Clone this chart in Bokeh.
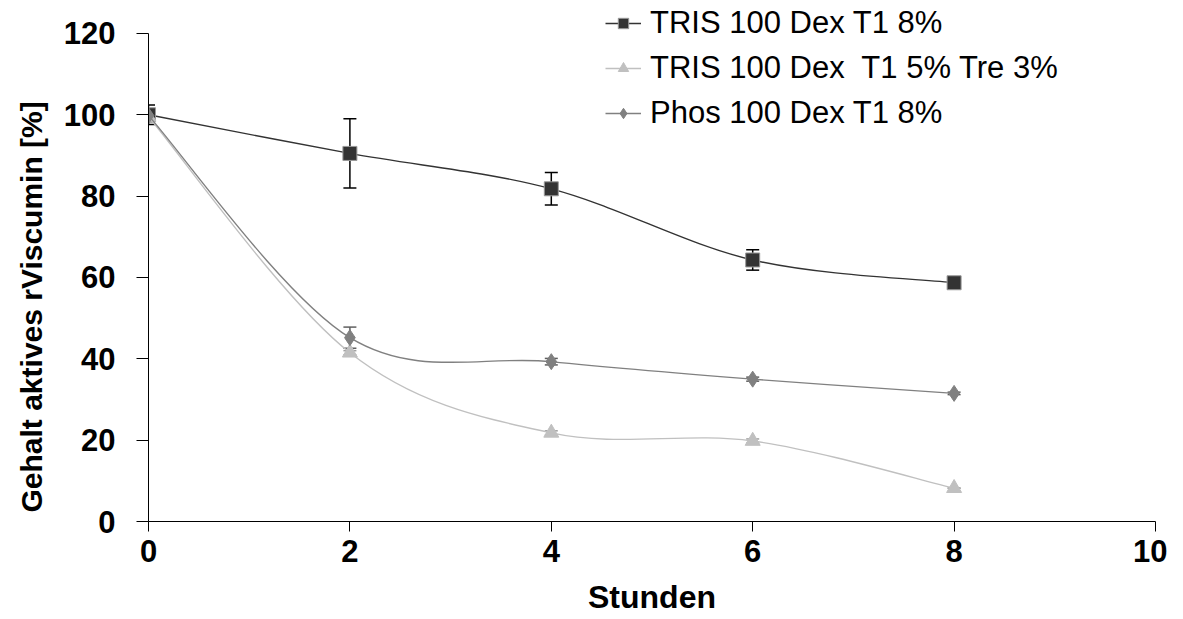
import numpy as np
from bokeh.plotting import figure
from bokeh.models import (Range1d, Legend, LegendItem, Whisker, ColumnDataSource,
                          FixedTicker, Title)
from bokeh.embed import file_html
from bokeh.resources import INLINE

hours = [0, 2, 4, 6, 8]
tris8 = [100, 90.5, 81.8, 64.3, 58.7]
tris8_err = [2.4, 8.5, 4.0, 2.5, 0.0]
tris5tre3 = [99.5, 41.5, 21.8, 19.8, 8.2]
tris5tre3_err = [1.0, 0.5, 0.5, 0.5, 0.0]
phos8 = [99.8, 45.2, 39.3, 35.0, 31.5]
phos8_err = [1.5, 2.6, 0.8, 0.5, 0.3]

labels = ["TRIS 100 Dex T1 8%", "TRIS 100 Dex  T1 5% Tre 3%", "Phos 100 Dex T1 8%"]
colors = ["#333333", "#C0C0C0", "#808080"]
markers = ["square", "triangle", "diamond"]
msizes = [14, 15, 16]
err_colors = ["#000000", "#A0A0A0", "#606060"]
y_ticks = [0, 20, 40, 60, 80, 100, 120]
x_ticks = [0, 2, 4, 6, 8, 10]
x_title = "Stunden"
y_title = "Gehalt aktives rViscumin [%]"

FONT = "Liberation Sans"

# frame spans the full canvas height above the axis so the legend (which sits
# partly above the 120 tick) is not clipped; the axis itself is bounded to 0..120
p = figure(width=1167, height=617, output_backend="svg", toolbar_location=None,
           x_range=Range1d(0, 10), y_range=Range1d(0, 128.1),
           min_border_left=148, min_border_right=12, min_border_top=0, min_border_bottom=96)
p.outline_line_color = None
p.grid.visible = False
p.background_fill_color = "white"


def bezier_segments(xs, ys):
    xs = np.asarray(xs, float)
    ys = np.asarray(ys, float)
    n = len(xs)
    x0, y0, x1, y1, cx0, cy0, cx1, cy1 = ([] for _ in range(8))
    for i in range(n - 1):
        ip = max(i - 1, 0)
        inx = min(i + 2, n - 1)
        x0.append(xs[i]); y0.append(ys[i])
        x1.append(xs[i + 1]); y1.append(ys[i + 1])
        cx0.append(xs[i] + (xs[i + 1] - xs[ip]) / 6.0)
        cy0.append(ys[i] + (ys[i + 1] - ys[ip]) / 6.0)
        cx1.append(xs[i + 1] - (xs[inx] - xs[i]) / 6.0)
        cy1.append(ys[i + 1] - (ys[inx] - ys[i]) / 6.0)
    return dict(x0=x0, y0=y0, x1=x1, y1=y1, cx0=cx0, cy0=cy0, cx1=cx1, cy1=cy1)


items = []
series = [tris8, tris5tre3, phos8]
errs = [tris8_err, tris5tre3_err, phos8_err]
for k in range(3):
    ys = series[k]
    e = errs[k]
    src = ColumnDataSource(dict(x=hours, y=ys,
                                lo=[a - b for a, b in zip(ys, e)],
                                hi=[a + b for a, b in zip(ys, e)]))
    bsrc = ColumnDataSource(bezier_segments(hours, ys))
    br = p.bezier(x0="x0", y0="y0", x1="x1", y1="y1", cx0="cx0", cy0="cy0",
                  cx1="cx1", cy1="cy1", source=bsrc, line_color=colors[k], line_width=1.4)
    w = Whisker(base="x", lower="lo", upper="hi", source=src, line_color=err_colors[k],
                line_width=1.5)
    w.upper_head.size = 13
    w.lower_head.size = 13
    w.upper_head.line_color = err_colors[k]
    w.lower_head.line_color = err_colors[k]
    w.upper_head.line_width = 1.5
    w.lower_head.line_width = 1.5
    p.add_layout(w)
    sr = p.scatter(x="x", y="y", source=src, marker=markers[k], size=msizes[k],
                   fill_color=colors[k], line_color="#999999" if k == 0 else colors[k],
                   line_width=1)
    items.append(LegendItem(label=labels[k], renderers=[br, sr]))

legend = Legend(items=items, location=(457, 390), border_line_color=None,
                background_fill_alpha=0, padding=0, margin=0,
                label_text_font=FONT, label_text_font_size="31px",
                label_text_color="#000000",
                glyph_width=36, glyph_height=26, label_height=31,
                label_standoff=9, spacing=9)
p.add_layout(legend, "center")

for ax in (p.xaxis[0], p.yaxis[0]):
    ax.axis_line_color = "black"
    ax.axis_line_width = 1
    ax.major_tick_line_color = "black"
    ax.major_tick_in = 0
    ax.minor_tick_line_color = None
    ax.major_label_text_font = FONT
    ax.major_label_text_font_style = "bold"
    ax.major_label_text_font_size = "31px"
    ax.major_label_text_color = "black"
    ax.axis_label_text_font = FONT
    ax.axis_label_text_font_style = "bold"
    ax.axis_label_text_color = "black"

p.xaxis.ticker = FixedTicker(ticks=x_ticks)
p.yaxis.ticker = FixedTicker(ticks=y_ticks)
p.yaxis.bounds = (y_ticks[0], y_ticks[-1])
p.xaxis.major_tick_out = 10
p.yaxis.major_tick_out = 12
p.xaxis.major_label_standoff = 8
p.yaxis.major_label_standoff = 21
p.xaxis.axis_label = x_title
p.xaxis.axis_label_text_font_size = "32px"
p.xaxis.axis_label_standoff = 14

# y title as a side title so it can be anchored at the bottom of the axis
ytitle = Title(text=y_title, align="left", offset=9, standoff=25,
               text_font=FONT, text_font_style="bold", text_font_size="30px",
               text_color="black")
p.add_layout(ytitle, "left")

open("out.html", "w").write(file_html(p, INLINE))
